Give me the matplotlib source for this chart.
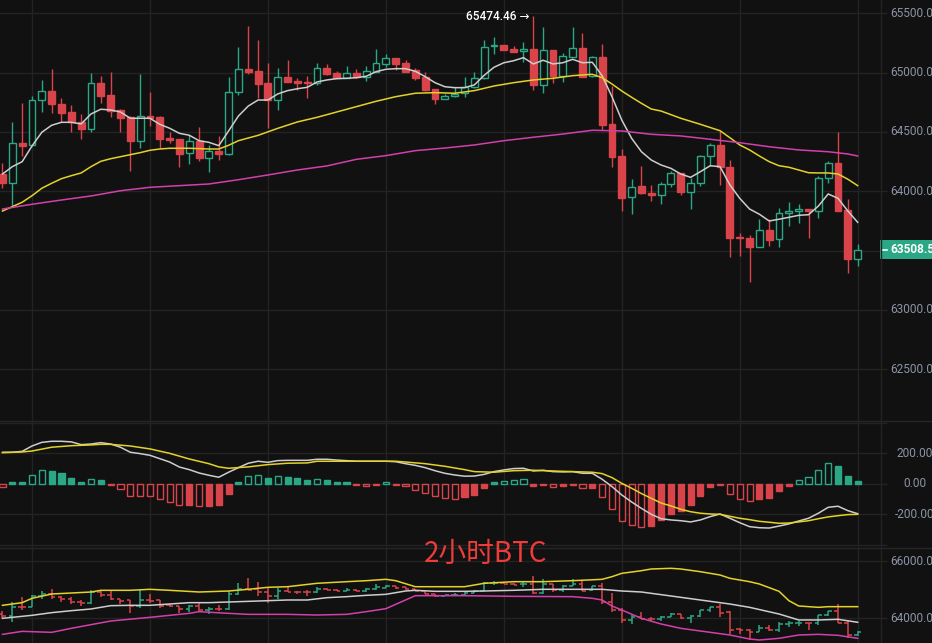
import matplotlib
matplotlib.use('Agg')
import matplotlib.pyplot as plt
from matplotlib.patches import Rectangle
from matplotlib.lines import Line2D
from matplotlib.transforms import blended_transform_factory

plt.rcParams['font.family'] = ['Roboto', 'Noto Sans CJK SC', 'DejaVu Sans']

# ---------------- data (2h BTC candles) ----------------
opens = [64145, 64072, 64407, 64387, 64767, 64845, 64735, 64668, 64581, 64527,
         64912, 64811, 64685, 64626, 64426, 64634, 64626, 64451, 64440, 64320,
         64426, 64283, 64339, 64316, 64834, 65030, 65014, 64912, 64767, 64963,
         64932, 64923, 64910, 65039, 64997, 64957, 64997, 64966, 65008, 65075,
         65123, 65081, 65019, 64963, 64859, 64780, 64800, 64826, 64876, 64952,
         65222, 65233, 65199, 65180, 65199, 64898, 65188, 64974, 65134, 65207,
         64974, 65132, 64567, 64297, 63949, 64042, 63985, 63966, 64058, 64151,
         63996, 64067, 64297, 64390, 64204, 63617, 63606, 63532, 63673, 63595,
         63814, 63833, 63850, 63833, 64109, 64240, 63842, 63431]
highs = [64240, 64584, 64746, 64803, 64938, 65028, 64786, 64727, 64651, 64999,
         64971, 65003, 64690, 64630, 64988, 64839, 64630, 64497, 64442, 64474,
         64544, 64392, 64466, 64966, 65218, 65395, 65277, 65078, 65041, 65106,
         64952, 64971, 65078, 65075, 65016, 65056, 65028, 65056, 65199, 65157,
         65127, 65104, 65039, 65003, 64862, 64820, 64876, 64966, 65003, 65275,
         65303, 65236, 65224, 65256, 65474.46, 65387, 65190, 65163, 65382, 65336,
         65140, 65241, 64887, 64353, 64100, 64213, 64055, 64078, 64173, 64156,
         64109, 64305, 64404, 64510, 64263, 63650, 63631, 63769, 63763, 63856,
         63909, 63892, 63852, 64128, 64255, 64502, 63932, 63555]
lows = [64025, 63870, 64297, 64380, 64670, 64660, 64584, 64499, 64443, 64499,
        64746, 64628, 64502, 64173, 64367, 64550, 64364, 64404, 64202, 64232,
        64255, 64165, 64263, 64305, 64809, 64988, 64788, 64530, 64682, 64920,
        64851, 64788, 64898, 64977, 64955, 64952, 64958, 64929, 65005, 65050,
        65022, 65005, 64938, 64845, 64733, 64778, 64798, 64792, 64874, 64950,
        65154, 65190, 65174, 65092, 64853, 64831, 64910, 64923, 65132, 64964,
        64963, 64516, 64207, 63833, 63808, 63980, 63920, 63895, 64033, 63968,
        63853, 64047, 64213, 64053, 63448, 63457, 63237, 63530, 63541, 63532,
        63709, 63730, 63608, 63772, 64067, 63834, 63313, 63370]
closes = [64072, 64404, 64384, 64769, 64845, 64733, 64660, 64584, 64527, 64910,
          64805, 64679, 64620, 64426, 64632, 64617, 64443, 64432, 64316, 64424,
          64283, 64337, 64316, 64834, 65028, 65005, 64906, 64769, 64960, 64923,
          64915, 64910, 65036, 64991, 64957, 64994, 64960, 65014, 65081, 65121,
          65075, 65008, 64957, 64853, 64780, 64800, 64820, 64876, 64952, 65218,
          65233, 65193, 65176, 65196, 64898, 65188, 64974, 65138, 65207, 64966,
          65129, 64558, 64291, 63945, 64038, 63983, 63966, 64058, 64151, 63996,
          64067, 64295, 64390, 64202, 63603, 63603, 63532, 63671, 63589, 63814,
          63831, 63853, 63833, 64109, 64240, 63836, 63431, 63508.5]

# moving averages
ma_white = [64145, 64207, 64249, 64381, 64497, 64556, 64581, 64581, 64567, 64651,
            64691, 64685, 64668, 64615, 64615, 64615, 64564, 64531, 64488, 64472,
            64426, 64412, 64384, 64508, 64634, 64718, 64769, 64769, 64820, 64848,
            64864, 64876, 64921, 64938, 64949, 64952, 64957, 64969, 65008, 65028,
            65033, 65033, 65011, 64966, 64915, 64881, 64873, 64873, 64896, 64977,
            65045, 65083, 65100, 65126, 65073, 65104, 65073, 65083, 65112, 65083,
            65087, 64974, 64797, 64600, 64446, 64333, 64263, 64221, 64193, 64145,
            64117, 64165, 64215, 64207, 64053, 63940, 63850, 63806, 63749, 63764,
            63780, 63797, 63802, 63875, 63977, 63940, 63833, 63738]
ma_yellow_idx = [0, 1, 2, 3, 4, 5, 6, 7, 8, 9, 10, 11, 12, 13, 14, 15, 16, 17, 18, 19,
                 20, 21, 22, 23, 24, 26, 28, 30, 32, 34, 36, 38, 40, 42, 44, 46, 48,
                 50, 52, 54, 56, 58, 60, 61, 62, 63, 64, 65, 66, 67, 69, 71, 73, 74,
                 75, 76, 77, 78, 79, 80, 81, 82, 83, 84, 85, 86, 87]
ma_yellow = [63833, 63870, 63907, 63962, 64025, 64067, 64106, 64131, 64154, 64207,
             64252, 64274, 64291, 64308, 64325, 64345, 64356, 64362, 64362, 64362,
             64359, 64356, 64356, 64387, 64426, 64471, 64530, 64584, 64623, 64668,
             64713, 64758, 64797, 64826, 64831, 64826, 64848, 64887, 64915, 64938,
             64952, 64974, 64986, 64957, 64904, 64845, 64792, 64741, 64693, 64676,
             64615, 64564, 64510, 64451, 64390, 64348, 64297, 64249, 64215, 64202,
             64179, 64156, 64154, 64154, 64145, 64101, 64047]
ma_magenta_idx = [0, 3, 6, 9, 12, 15, 18, 21, 24, 27, 30, 33, 36, 39, 42, 45, 48, 51,
                  54, 57, 60, 63, 66, 69, 72, 75, 78, 81, 84, 86, 87]
ma_magenta = [63850, 63890, 63926, 63960, 64004, 64033, 64047, 64061, 64097, 64137,
              64179, 64213, 64269, 64300, 64342, 64364, 64390, 64426, 64455, 64482,
              64514, 64508, 64480, 64466, 64438, 64409, 64375, 64348, 64333, 64314,
              64297]

# MACD
macd_hist = [-17, 13, 13, 57, 90, 88, 72, 39, 13, 31,
             26, -7, -31, -77, -78, -81, -100, -120, -140, -136,
             -146, -142, -136, -63, 13, 50, 57, 37, 50, 46,
             37, 29, 32, 24, 13, 13, -4, -11, -4, 13,
             -4, -15, -37, -57, -81, -94, -96, -83, -70, -24,
             13, 22, 25, 31, -11, -7, -20, -15, -7, -28,
             -24, -87, -162, -245, -269, -280, -273, -236, -195, -175,
             -136, -77, -17, -7, -63, -96, -114, -98, -90, -44,
             -11, 24, 44, 90, 136, 118, 52, 20]
macd_dif = [208, 208, 214, 249, 273, 280, 280, 276, 258, 262,
            271, 262, 241, 208, 199, 188, 166, 144, 111, 94,
            72, 57, 44, 77, 107, 136, 149, 142, 153, 155,
            155, 155, 162, 162, 157, 153, 149, 149, 149, 149,
            146, 133, 122, 107, 87, 70, 59, 51, 52, 63,
            81, 92, 101, 103, 85, 90, 81, 79, 81, 70,
            70, 31, -17, -72, -118, -160, -199, -228, -236, -241,
            -249, -236, -214, -197, -225, -254, -280, -287, -289, -276,
            -262, -243, -225, -192, -153, -146, -175, -195]
macd_dea_idx = [0, 2, 3, 5, 7, 9, 10, 11, 13, 15, 17, 19, 21, 22, 23, 25, 27, 29, 31,
                32, 34, 36, 38, 40, 41, 43, 45, 47, 48, 50, 52, 54, 56, 58, 60, 61,
                62, 63, 64, 65, 66, 67, 68, 69, 70, 71, 72, 73, 74, 75, 76, 77, 78,
                79, 80, 81, 82, 83, 84, 85, 86, 87]
macd_dea = [205, 210, 216, 241, 251, 256, 260, 260, 249, 230, 201, 164, 133, 112, 103,
            112, 127, 136, 138, 149, 149, 149, 149, 149, 144, 133, 116, 94, 81, 77,
            87, 90, 85, 81, 77, 68, 42, 4, -28, -63, -94, -125, -144, -166, -182,
            -192, -197, -199, -212, -225, -234, -245, -251, -258, -256, -249, -241,
            -228, -216, -208, -201, -199]

# Bollinger bands (lower panel)
boll_up_idx = [0, 2, 3, 5, 7, 9, 10, 13, 15, 17, 20, 23, 25, 27, 29, 32, 35, 37, 39, 40,
               42, 44, 47, 49, 52, 55, 58, 61, 62, 63, 65, 66, 68, 69, 71, 73, 74, 76,
               77, 79, 80, 81, 83, 84, 87]
boll_up = [64453, 64546, 64697, 64848, 64883, 64918, 64977, 64977, 65012, 64977,
           64918, 64953, 65012, 65082, 65103, 65222, 65278, 65313, 65361, 65313,
           65103, 65103, 65103, 65222, 65278, 65278, 65313, 65361, 65453, 65570,
           65662, 65721, 65745, 65721, 65627, 65511, 65396, 65278, 65197, 64942,
           64615, 64430, 64383, 64406, 64406]
boll_mid_idx = [0, 3, 5, 7, 9, 11, 13, 15, 17, 19, 21, 23, 25, 27, 29, 31, 33, 35, 37,
                39, 41, 42, 44, 47, 49, 52, 55, 58, 61, 63, 65, 68, 71, 74, 76, 79,
                81, 83, 85, 87]
boll_mid = [63999, 64104, 64197, 64266, 64325, 64441, 64453, 64453, 64499, 64546,
            64546, 64569, 64592, 64615, 64639, 64639, 64720, 64755, 64802, 64837,
            64953, 64977, 64942, 64942, 64953, 64977, 65012, 65012, 65012, 64953,
            64918, 64779, 64639, 64499, 64383, 64150, 63942, 63942, 63965, 63861]
boll_low_idx = [0, 2, 5, 7, 9, 11, 15, 19, 20, 23, 25, 29, 32, 35, 37, 39, 41, 42, 44,
                47, 52, 58, 60, 61, 62, 63, 65, 67, 69, 71, 74, 76, 77, 79, 81, 83,
                85, 87]
boll_low = [63440, 63545, 63510, 63650, 63778, 63905, 64034, 64173, 64232, 64173,
            64138, 64138, 64115, 64138, 64232, 64336, 64639, 64790, 64790, 64790,
            64767, 64755, 64698, 64639, 64430, 64290, 63999, 63801, 63650, 63557,
            63417, 63277, 63243, 63301, 63417, 63440, 63406, 63301]

price_grid = [62500, 63000, 63500, 64000, 64500, 65000, 65500]
price_labels = [62500, 63000, 64000, 64500, 65000, 65500]   # 63500 hidden by price tag
macd_ticks = [-200, 0, 200]
macd_grid = [-400, -200, 0, 200, 400]
boll_ticks = [64000, 66000]
vgrid_idx = [3, 15, 27, 39, 51, 63, 75, 87]
title_text = '2小时BTC'
high_label = '65474.46 →'

# ---------------- styling ----------------
BG = '#111111'
GRID = '#232323'
GREEN = '#2aa784'
RED = '#d9434a'
WLINE = '#cdcdcd'
YELLOW = '#e4d228'
MAGENTA = '#d43fac'
LABEL = '#8a93a5'

W, H = 932, 643
fig = plt.figure(figsize=(W / 100, H / 100), dpi=100, facecolor=BG)
XR = 880.5


def px_axes(y0, y1):
    return fig.add_axes([0, 1 - y1 / H, XR / W, (y1 - y0) / H])


ax1 = px_axes(0, 421)
ax2 = px_axes(421, 548)
ax3 = px_axes(548, 643)

n = len(closes)
xs = list(range(n))
ax1.set_ylim(62063, 65612)
ax2.set_ylim(-420, 413)
ax3.set_ylim(63138, 66454)

for ax, grid_levels in ((ax1, price_grid), (ax2, macd_grid), (ax3, boll_ticks)):
    ax.set_facecolor(BG)
    ax.set_xlim(-0.254, 89.32)
    for s in ax.spines.values():
        s.set_visible(False)
    ax.set_xticks([])
    ax.set_yticks(grid_levels)
    ax.tick_params(axis='y', left=False, right=True, direction='out', length=4.3,
                   width=1, color=GRID, labelleft=False, labelright=False)
    for v in grid_levels:
        ax.axhline(v, color=GRID, lw=1, zorder=0)
    for gx in vgrid_idx:
        ax.axvline(gx, color=GRID, lw=1, zorder=0)


def axis_labels(ax, levels):
    tr = blended_transform_factory(fig.transFigure, ax.transData)
    for v in levels:
        ax.text(915 / W, v, f'{v:.2f}', transform=tr, ha='center', va='center',
                color=LABEL, fontsize=8.6, clip_on=False)


axis_labels(ax1, price_labels)
axis_labels(ax2, macd_ticks)
axis_labels(ax3, boll_ticks)

# separators
fig.add_artist(Line2D([XR / W, XR / W], [0, 1], color=GRID, lw=1))
for yy in (421, 548):
    fig.add_artist(Line2D([0, 1], [1 - yy / H, 1 - yy / H], color='#262626', lw=1))

# ---------------- main candles ----------------
for i in xs:
    o, h, l, c = opens[i], highs[i], lows[i], closes[i]
    col = GREEN if c >= o else RED
    ax1.vlines(i, l, h, color=col, lw=1, zorder=2)
    bottom = min(o, c)
    height = max(abs(c - o), 9)
    face = BG if c >= o else RED
    ax1.add_patch(Rectangle((i - 0.35, bottom), 0.7, height, facecolor=face,
                            edgecolor=col, lw=1, zorder=2.5))

ax1.plot(xs, ma_white, color=WLINE, lw=1.1, zorder=3)
ax1.plot(ma_yellow_idx, ma_yellow, color=YELLOW, lw=1.1, zorder=3)
ax1.plot(ma_magenta_idx, ma_magenta, color=MAGENTA, lw=1.1, zorder=3)

imax = highs.index(max(highs))
ax1.text(imax - 0.4, highs[imax], high_label, ha='right', va='center',
         color='#ffffff', fontsize=8.6, fontweight='medium',
         family=['Roboto', 'DejaVu Sans'], zorder=5)

# last price tag
tr1 = blended_transform_factory(fig.transFigure, ax1.transData)
last = closes[-1]
ax1.add_patch(Rectangle((880 / W, last - 82), 52 / W, 164, transform=tr1,
                        facecolor=GREEN, edgecolor='none', clip_on=False, zorder=6))
ax1.add_line(Line2D([881.5 / W, 886.5 / W], [last, last], transform=tr1,
                    color='#ffffff', lw=1.2, clip_on=False, zorder=7))
ax1.text(890 / W, last, f'{last:.1f}', transform=tr1, ha='left', va='center',
         color='#ffffff', fontsize=8.6, fontweight='bold', clip_on=False, zorder=7)

# ---------------- MACD ----------------
for i in xs:
    hv = macd_hist[i]
    col = GREEN if hv >= 0 else RED
    hollow = i == 0 or abs(hv) > abs(macd_hist[i - 1])
    ax2.bar(i, hv, width=0.62, facecolor=BG if hollow else col, edgecolor=col,
            lw=1, zorder=2)
ax2.plot(xs, macd_dif, color=WLINE, lw=1.1, zorder=3)
ax2.plot(macd_dea_idx, macd_dea, color=YELLOW, lw=1.1, zorder=3)

# ---------------- OHLC + Bollinger ----------------
for i in xs:
    o, h, l, c = opens[i], highs[i], lows[i], closes[i]
    col = GREEN if c >= o else RED
    ax3.vlines(i, l, h, color=col, lw=1.1, zorder=2)
    ax3.hlines(o, i - 0.38, i, color=col, lw=1.1, zorder=2)
    ax3.hlines(c, i, i + 0.38, color=col, lw=1.1, zorder=2)
ax3.plot(boll_up_idx, boll_up, color=YELLOW, lw=1.1, zorder=3)
ax3.plot(boll_mid_idx, boll_mid, color=WLINE, lw=1.1, zorder=3)
ax3.plot(boll_low_idx, boll_low, color=MAGENTA, lw=1.1, zorder=3)

fig.text(486 / W, 1 - 554 / H, title_text, color='#ee3b3b', fontsize=20,
         ha='center', va='center', family=['Noto Sans CJK SC', 'DejaVu Sans'])

fig.savefig('out.png', dpi=100, facecolor=BG)
